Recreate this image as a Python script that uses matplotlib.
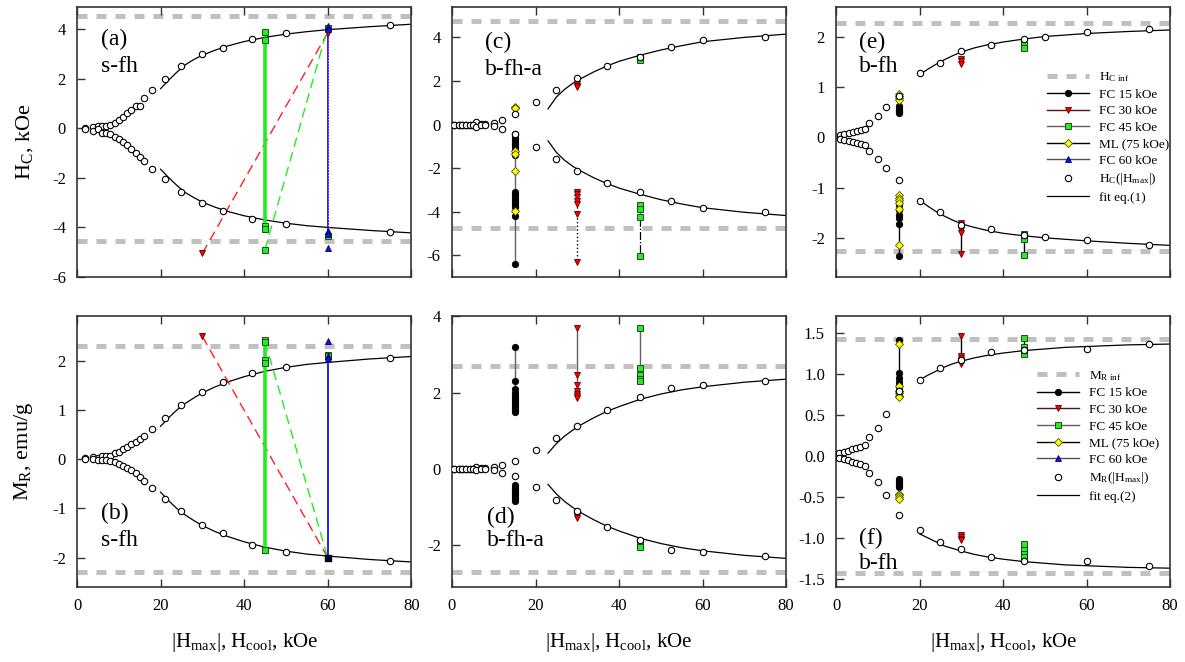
import numpy as np
import matplotlib
matplotlib.use('Agg')
import matplotlib.pyplot as plt
from matplotlib.lines import Line2D

plt.rcParams['font.family'] = ['Liberation Serif', 'DejaVu Serif']
plt.rcParams['mathtext.fontset'] = 'custom'
plt.rcParams['mathtext.rm'] = 'Liberation Serif'
plt.rcParams['mathtext.it'] = 'Liberation Serif:italic'
plt.rcParams['axes.unicode_minus'] = False

###   Data

# saturation levels (grey dashed lines) for s-fh, b-fh-a, b-fh
hc_inf = [4.55, 4.75, 2.27]
mr_inf = [2.30, 2.70, 1.43]

# { s-fh, panels (a) and (b)
x_ab = [1.8, 3.8, 5, 6, 7, 8, 9, 10, 11, 12, 13, 14, 15, 16, 18, 21, 25, 30, 35, 42, 50, 75]
hc_a_up = [0, 0.04, 0.1, 0.08, 0.1, 0.12, 0.23, 0.34, 0.45, 0.6, 0.75, 0.88, 0.91, 1.23, 1.56,
           2.0, 2.5, 2.98, 3.25, 3.62, 3.85, 4.16]
hc_a_lo = [-0.03, -0.1, -0.02, -0.2, -0.2, -0.23, -0.34, -0.45, -0.57, -0.68, -0.84, -1.0, -1.15,
           -1.3, -1.63, -2.06, -2.59, -3.01, -3.32, -3.66, -3.85, -4.18]
mr_b_up = [0.03, 0.04, 0.03, 0.06, 0.07, 0.07, 0.12, 0.15, 0.2, 0.25, 0.3, 0.35, 0.41, 0.48, 0.62,
           0.83, 1.1, 1.36, 1.57, 1.76, 1.87, 2.06]
mr_b_lo = [0.01, 0.0, -0.01, -0.02, -0.02, -0.03, -0.06, -0.1, -0.13, -0.17, -0.22, -0.29, -0.36,
           -0.44, -0.58, -0.8, -1.06, -1.34, -1.51, -1.75, -1.89, -2.07]

fit_x_ab = [20, 22, 24, 26, 28, 30, 33, 36, 40, 45, 50, 55, 60, 70, 80]
fit_a_up = [1.6, 1.95, 2.28, 2.57, 2.78, 2.95, 3.15, 3.32, 3.5, 3.67, 3.8, 3.9, 3.98, 4.1, 4.2]
fit_a_lo = [-1.65, -2.0, -2.32, -2.6, -2.8, -2.98, -3.18, -3.35, -3.53, -3.7, -3.83, -3.93, -4.0,
            -4.12, -4.22]
fit_b_up = [0.67, 0.85, 1.01, 1.14, 1.25, 1.35, 1.47, 1.57, 1.68, 1.79, 1.87, 1.93, 1.97, 2.04, 2.09]
fit_b_lo = [-v for v in fit_b_up]

# FC runs: (H_cool, value) pairs
a_fc30_x = [30, 60]
a_fc30_y = [-5.05, 3.85]
a_fc45_y = [3.9, 3.58, -3.95, -4.07]
a_fc45_jump_x = [45, 60]
a_fc45_jump_y = [-4.9, 4.05]
a_fc45_at60 = [4.05, -4.35]
a_fc60_y = [4.12, 4.0, -4.15, -4.25]
a_fc60_extra = [-4.85]

b_fc30_x = [30, 60]
b_fc30_y = [2.5, -2.0]
b_fc45_y = [2.42, 2.38, 2.02, 1.95, -1.85]
b_fc45_jump_x = [45, 60]
b_fc45_jump_y = [2.4, -2.0]
b_fc45_at60 = [2.13, 2.1, -2.02]
b_fc60_y = [2.1, 2.05, -2.0]
b_fc60_extra = [2.4]
# }

# { b-fh-a, panels (c) and (d)
x_cd = [0.6, 1.6, 2.5, 3.4, 4.4, 5.0, 5.8, 6.9, 7.8, 10, 11.9, 15, 20, 25, 30, 37, 45, 52.5, 60, 75]
hc_c_up = [0, 0, 0, 0, 0, 0, 0.12, 0.02, 0.02, 0.07, 0.2, 0.47, 1.05, 1.6, 2.12, 2.7, 3.12, 3.55,
           3.86, 4.03]
hc_c_lo = [0, 0, 0, 0, 0, 0, -0.12, -0.02, -0.02, -0.07, -0.2, -0.45, -1.05, -1.6, -2.12, -2.68,
           -3.12, -3.52, -3.85, -4.02]
mr_d_up = [0, 0, 0, 0, 0, 0, 0.04, 0.01, 0.01, 0.04, 0.1, 0.2, 0.48, 0.82, 1.12, 1.55, 1.89, 2.13,
           2.19, 2.3]
mr_d_lo = [0, 0, 0, 0, 0, 0, -0.04, -0.01, -0.01, -0.04, -0.1, -0.18, -0.48, -0.82, -1.1, -1.53,
           -1.87, -2.12, -2.18, -2.3]

fit_x_cd = [23, 25, 27, 29, 31, 34, 37, 40, 45, 50, 55, 60, 70, 80]
fit_c_up = [0.72, 1.26, 1.62, 1.9, 2.12, 2.42, 2.68, 2.9, 3.18, 3.42, 3.62, 3.8, 4.0, 4.15]
fit_c_lo = [-0.75, -1.28, -1.65, -1.93, -2.15, -2.45, -2.7, -2.92, -3.2, -3.45, -3.65, -3.82,
            -4.03, -4.18]
fit_d_up = [0.41, 0.66, 0.86, 1.02, 1.16, 1.34, 1.5, 1.63, 1.82, 1.96, 2.07, 2.15, 2.27, 2.35]
fit_d_lo = [-v for v in fit_d_up]

c_fc15_lo = [-0.45, -0.6, -0.7, -0.8, -0.9, -1.0, -1.1, -1.2, -1.3, -1.4, -3.1, -3.2, -3.3, -3.4,
             -3.5, -3.6, -3.7, -3.8, -4.2, -6.4]
c_ml_up = [0.82, 0.78, 0.75]
c_ml_lo = [-1.2, -1.35, -2.15, -3.95]
c_fc30_up = [1.85, 1.75, 1.7]
c_fc30_lo = [-3.1, -3.2, -3.35, -3.5, -3.65, -4.1, -6.3]
c_fc45_up = [3.1, 2.97]
c_fc45_lo = [-3.7, -3.9, -4.25, -6.05]

d_fc15_up = [3.2, 2.3, 2.1, 2.0, 1.9, 1.85, 1.8, 1.75, 1.7, 1.65, 1.6, 1.55, 1.5]
d_fc15_lo = [-0.42, -0.5, -0.55, -0.6, -0.65, -0.7, -0.75, -0.8, -0.85]
d_fc30_up = [3.7, 2.45, 2.2, 2.05, 1.95, 1.9, 1.85]
d_fc30_lo = [-1.2, -1.25, -1.3]
d_fc45_up = [3.7, 2.65, 2.45, 2.35, 2.3]
d_fc45_lo = [-2.0, -2.05]
# }

# { b-fh, panels (e) and (f)
x_e = [1, 2, 3, 4, 5, 6, 7, 8, 10, 12, 15, 20, 25, 30, 37, 45, 50, 60, 75]
hc_e_up = [0.05, 0.07, 0.09, 0.11, 0.13, 0.15, 0.16, 0.29, 0.43, 0.61, 0.82, 1.28, 1.49, 1.73, 1.85,
           1.96, 2.0, 2.09, 2.15]
hc_e_lo = [-0.04, -0.06, -0.08, -0.1, -0.12, -0.14, -0.15, -0.28, -0.43, -0.6, -0.85, -1.27, -1.49,
           -1.75, -1.83, -1.95, -1.99, -2.05, -2.15]
x_f = [0.8, 1.8, 2.8, 3.8, 4.8, 5.8, 7, 8, 10, 12, 15, 20, 25, 30, 37, 45, 60, 75]
mr_f_up = [0.04, 0.05, 0.065, 0.085, 0.1, 0.11, 0.14, 0.23, 0.34, 0.51, 0.8, 0.93, 1.08, 1.17, 1.27,
           1.3, 1.31, 1.37]
mr_f_lo = [-0.02, -0.04, -0.05, -0.07, -0.09, -0.1, -0.12, -0.21, -0.32, -0.48, -0.72, -0.9, -1.05,
           -1.13, -1.23, -1.28, -1.28, -1.34]

fit_x_ef = [20, 22, 24, 26, 28, 30, 33, 36, 40, 45, 50, 55, 60, 70, 80]
fit_e_up = [1.25, 1.36, 1.46, 1.55, 1.63, 1.7, 1.78, 1.84, 1.9, 1.96, 2.01, 2.04, 2.07, 2.11, 2.14]
fit_e_lo = [-1.25, -1.37, -1.48, -1.57, -1.65, -1.72, -1.79, -1.85, -1.91, -1.96, -2.0, -2.03,
            -2.06, -2.11, -2.15]
fit_f_up = [0.93, 0.99, 1.04, 1.09, 1.13, 1.16, 1.2, 1.23, 1.26, 1.29, 1.31, 1.33, 1.34, 1.36, 1.37]
fit_f_lo = [-0.95, -1.0, -1.05, -1.1, -1.13, -1.16, -1.2, -1.23, -1.26, -1.29, -1.31, -1.33, -1.34,
            -1.36, -1.37]

e_fc15_up = [0.62, 0.58, 0.55, 0.52, 0.5, 0.48]
e_fc15_lo = [-1.25, -1.35, -1.45, -1.55, -1.6, -1.72, -2.37]
e_ml_up = [0.86, 0.82, 0.78, 0.75]
e_ml_lo = [-1.15, -1.2, -1.25, -1.3, -1.42, -2.15]
e_fc30_up = [1.57, 1.52, 1.47]
e_fc30_lo = [-1.7, -1.75, -1.8, -1.85, -1.9, -2.33]
e_fc45_up = [1.87, 1.78]
e_fc45_lo = [-1.93, -1.97, -2.03, -2.35]

f_fc15_up = [1.42, 1.02, 0.95, 0.9, 0.87, 0.85, 0.8, 0.77, 0.75]
f_fc15_lo = [-0.28, -0.3, -0.32, -0.34, -0.36, -0.38]
f_ml_up = [1.37, 0.86, 0.8, 0.77, 0.74, 0.72]
f_ml_lo = [-0.46, -0.48, -0.5, -0.52]
f_fc30_up = [1.47, 1.22, 1.2, 1.18, 1.15, 1.12]
f_fc30_lo = [-0.97, -0.99, -1.01, -1.03]
f_fc45_up = [1.45, 1.33, 1.3, 1.25]
f_fc45_lo = [-1.07, -1.15, -1.2, -1.23]
# }

###   Styles

GREY = '#c0c0c0'
MS = 4.6
DASH = (2.0, 1.8)
sty = {
    'fc15': dict(marker='o', mfc='black', mec='black'),
    'fc30': dict(marker='v', mfc='#ff0000', mec='#5a0000'),
    'fc45': dict(marker='s', mfc='#22ee22', mec='#103010'),
    'ml':   dict(marker='D', mfc='#ffff00', mec='#505000', ms=4.0),
    'fc60': dict(marker='^', mfc='#1010ff', mec='#000060'),
}


def pts(ax, x, ys, key, ls='none', color='black', lw=1.0, zorder=4):
    s = dict(ms=MS, mew=0.6)
    s.update(sty[key])
    ax.plot([x]*len(ys), ys, ls=ls, color=color, lw=lw, zorder=zorder, **s)


def base(ax, xs, up, lo, fx, fup, flo, inf, yl, yt):
    ax.axhline(inf, color=GREY, lw=3.6, dashes=DASH, zorder=1)
    ax.axhline(-inf, color=GREY, lw=3.6, dashes=DASH, zorder=1)
    ax.plot(fx, fup, color='black', lw=0.9, zorder=2)
    ax.plot(fx, flo, color='black', lw=0.9, zorder=2)
    ax.plot(xs, up, ls='none', marker='o', ms=4.6, mfc='white', mec='black', mew=0.8, zorder=5)
    ax.plot(xs, lo, ls='none', marker='o', ms=4.6, mfc='white', mec='black', mew=0.8, zorder=5)
    ax.set_xlim(0, 80)
    ax.set_ylim(*yl)
    ax.set_yticks(yt)
    ax.set_xticks([0, 20, 40, 60, 80])
    ax.tick_params(direction='in', length=5.5, width=1, top=True, labelsize=12, pad=8,
                   colors='#333333', labelcolor='black')
    for sp in ax.spines.values():
        sp.set_color('#333333')
        sp.set_linewidth(1.2)


def tag(ax, x, y1, y2, t1, t2):
    ax.text(x, y1, t1, transform=ax.transAxes, fontsize=17, va='center', ha='left', zorder=6)
    ax.text(x, y2, t2, transform=ax.transAxes, fontsize=17, va='center', ha='left', zorder=6)


fig = plt.figure(figsize=(11.85, 6.62), dpi=100)
lefts = [0.065, 0.3814, 0.7055]
w = 0.282
axa = fig.add_axes([lefts[0], 0.5816, w, 0.408])
axc = fig.add_axes([lefts[1], 0.5816, w, 0.408])
axe = fig.add_axes([lefts[2], 0.5816, w, 0.408])
axb = fig.add_axes([lefts[0], 0.1133, w, 0.409])
axd = fig.add_axes([lefts[1], 0.1133, w, 0.409])
axf = fig.add_axes([lefts[2], 0.1133, w, 0.409])

# { (a)
base(axa, x_ab, hc_a_up, hc_a_lo, fit_x_ab, fit_a_up, fit_a_lo, hc_inf[0], (-6, 4.9), [-6, -4, -2, 0, 2, 4])
axa.plot(a_fc30_x, a_fc30_y, color='#ff2020', lw=1.0, dashes=(7, 4), zorder=3)
axa.plot(a_fc45_jump_x, a_fc45_jump_y, color='#20ee20', lw=1.0, dashes=(7, 4), zorder=3)
axa.plot([45]*len(a_fc45_y), a_fc45_y, color='#20ee20', lw=2.6, zorder=3)
axa.plot([60]*len(a_fc60_y), a_fc60_y, color='#1010ee', lw=1.3, zorder=3)
axa.plot([60, 60], [a_fc30_y[1], a_fc60_y[-1]], color='#ff60ff', lw=0.8, ls=':', zorder=3)
pts(axa, a_fc30_x[0], [a_fc30_y[0]], 'fc30')
pts(axa, a_fc30_x[1], [a_fc30_y[1]], 'fc30')
pts(axa, 45, a_fc45_y + [a_fc45_jump_y[0]], 'fc45')
pts(axa, 60, a_fc45_at60, 'fc45')
pts(axa, 60, a_fc60_y + a_fc60_extra, 'fc60')
axa.set_xticklabels([])
axa.set_ylabel(r'$\mathregular{H_C}$, kOe', fontsize=16, labelpad=12)
tag(axa, 0.072, 0.878, 0.78, '(a)', 's-fh')
# }

# { (b)
base(axb, x_ab, mr_b_up, mr_b_lo, fit_x_ab, fit_b_up, fit_b_lo, mr_inf[0], (-2.6, 2.91), [-2, -1, 0, 1, 2])
axb.plot(b_fc30_x, b_fc30_y, color='#ff2020', lw=1.0, dashes=(7, 4), zorder=3)
axb.plot(b_fc45_jump_x, b_fc45_jump_y, color='#20ee20', lw=1.0, dashes=(7, 4), zorder=3)
axb.plot([45]*len(b_fc45_y), b_fc45_y, color='#20ee20', lw=2.6, zorder=3)
axb.plot([60]*len(b_fc60_y), b_fc60_y, color='#1010ee', lw=1.3, zorder=3)
pts(axb, b_fc30_x[0], [b_fc30_y[0]], 'fc30')
pts(axb, 45, b_fc45_y, 'fc45')
pts(axb, 60, b_fc45_at60, 'fc45')
pts(axb, 60, b_fc60_y + b_fc60_extra, 'fc60')
axb.plot([60], [b_fc60_y[-1]], ls='none', marker='s', ms=MS, mfc='#000040', mec='black', zorder=6)
axb.set_ylabel(r'$\mathregular{M_R}$, emu/g', fontsize=16, labelpad=12)
tag(axb, 0.072, 0.27, 0.173, '(b)', 's-fh')
# }

# { (c)
base(axc, x_cd, hc_c_up, hc_c_lo, fit_x_cd, fit_c_up, fit_c_lo, hc_inf[1], (-7, 5.4), [-6, -4, -2, 0, 2, 4])
pts(axc, 15, c_fc15_lo, 'fc15', ls='-', color='#606060', lw=1.0)
pts(axc, 15, c_ml_up, 'ml')
pts(axc, 15, c_ml_lo, 'ml')
pts(axc, 30, c_fc30_up, 'fc30')
pts(axc, 30, c_fc30_lo, 'fc30', ls=':', color='black', lw=1.0)
pts(axc, 45, c_fc45_up, 'fc45')
pts(axc, 45, c_fc45_lo, 'fc45', ls='-.', color='black', lw=0.9)
axc.set_xticklabels([])
tag(axc, 0.0985, 0.867, 0.767, '(c)', 'b-fh-a')
# }

# { (d)
base(axd, x_cd, mr_d_up, mr_d_lo, fit_x_cd, fit_d_up, fit_d_lo, mr_inf[1], (-3.1, 4.0), [-2, 0, 2, 4])
pts(axd, 15, d_fc15_up, 'fc15', ls='-', color='#606060')
pts(axd, 15, d_fc15_lo, 'fc15', ls='-', color='#606060')
pts(axd, 30, d_fc30_up, 'fc30', ls='-', color='#606060')
pts(axd, 30, d_fc30_lo, 'fc30', ls='-', color='#606060')
pts(axd, 45, d_fc45_up, 'fc45', ls='-', color='#606060')
pts(axd, 45, d_fc45_lo, 'fc45', ls='-', color='#606060')
tag(axd, 0.104, 0.258, 0.173, '(d)', 'b-fh-a')
# }

# { (e)
base(axe, x_e, hc_e_up, hc_e_lo, fit_x_ef, fit_e_up, fit_e_lo, hc_inf[2], (-2.78, 2.6), [-2, -1, 0, 1, 2])
pts(axe, 15, e_fc15_up, 'fc15', ls='-')
pts(axe, 15, e_fc15_lo, 'fc15', ls='-')
pts(axe, 15, e_ml_up, 'ml')
pts(axe, 15, e_ml_lo, 'ml')
pts(axe, 30, e_fc30_up, 'fc30', ls='-')
pts(axe, 30, e_fc30_lo, 'fc30', ls='-')
pts(axe, 45, e_fc45_up, 'fc45', ls='-')
pts(axe, 45, e_fc45_lo, 'fc45', ls='-')
axe.set_xticklabels([])
tag(axe, 0.069, 0.867, 0.778, '(e)', 'b-fh')
# }

# { (f)
base(axf, x_f, mr_f_up, mr_f_lo, fit_x_ef, fit_f_up, fit_f_lo, mr_inf[2], (-1.6, 1.71),
     [-1.5, -1.0, -0.5, 0.0, 0.5, 1.0, 1.5])
axf.set_yticklabels(['%.1f' % v for v in [-1.5, -1.0, -0.5, 0.0, 0.5, 1.0, 1.5]])
pts(axf, 15, f_fc15_up, 'fc15', ls='-')
pts(axf, 15, f_fc15_lo, 'fc15', ls='-')
pts(axf, 15, f_ml_up, 'ml')
pts(axf, 15, f_ml_lo, 'ml')
pts(axf, 30, f_fc30_up, 'fc30', ls='-')
pts(axf, 30, f_fc30_lo, 'fc30', ls='-')
pts(axf, 45, f_fc45_up, 'fc45', ls='-')
pts(axf, 45, f_fc45_lo, 'fc45', ls='-')
tag(axf, 0.069, 0.18, 0.088, '(f)', 'b-fh')
# }

for ax in (axb, axd, axf):
    ax.set_xlabel(r'$\mathregular{|H_{max}|}$, $\mathregular{H_{cool}}$, kOe', fontsize=15, labelpad=12)

# { Legends


def handles(inf_label, circ_label, fit_label):
    h = [Line2D([], [], color=GREY, lw=3.6, dashes=DASH)]
    line_cols = ['black', '#5a1010', '#606060', 'black', '#505050']
    for key, lc in zip(['fc15', 'fc30', 'fc45', 'ml', 'fc60'], line_cols):
        s = dict(ms=MS, mew=0.6)
        s.update(sty[key])
        h.append(Line2D([], [], color=lc, lw=1.0, **s))
    h.append(Line2D([], [], ls='none', marker='o', ms=4.6, mfc='white', mec='black', mew=0.8))
    h.append(Line2D([], [], color='black', lw=0.9))
    labels = [inf_label, 'FC 15 kOe', 'FC 30 kOe', 'FC 45 kOe', 'ML (75 kOe)', 'FC 60 kOe',
              circ_label, fit_label]
    return h, labels


h, l = handles(r'$\mathregular{H_{C\ inf}}$', r'$\mathregular{H_C(|H_{max}|)}$', 'fit eq.(1)')
axe.legend(h, l, loc='upper left', bbox_to_anchor=(0.63, 0.765), frameon=False, fontsize=9.5,
           handlelength=3.2, handletextpad=0.8, labelspacing=0.33, borderpad=0, borderaxespad=0)
h, l = handles(r'$\mathregular{M_{R\ inf}}$', r'$\mathregular{M_R(|H_{max}|)}$', 'fit eq.(2)')
axf.legend(h, l, loc='upper left', bbox_to_anchor=(0.6, 0.805), frameon=False, fontsize=9.5,
           handlelength=3.2, handletextpad=0.8, labelspacing=0.33, borderpad=0, borderaxespad=0)

# }

fig.savefig('out.png', dpi=100)
